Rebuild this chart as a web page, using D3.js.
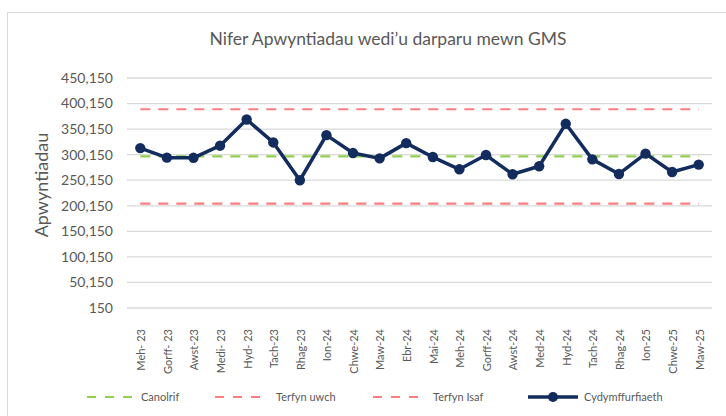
<!DOCTYPE html>
<html>
<head>
<meta charset="utf-8">
<script src="https://cdn.jsdelivr.net/npm/d3@7"></script>
<style>
  body { margin: 0; background: #fff; }
  svg { font-family: Lato, "Open Sans", sans-serif; }
</style>
</head>
<body>
<div id="chart"></div>
<script>
const months = ['Meh- 23', 'Gorff- 23', 'Awst-23', 'Medi- 23', 'Hyd- 23', 'Tach-23', 'Rhag-23', 'Ion-24',
  'Chwe-24', 'Maw-24', 'Ebr-24', 'Mai-24', 'Meh-24', 'Gorff-24', 'Awst-24', 'Med-24', 'Hyd-24',
  'Tach-24', 'Rhag-24', 'Ion-25', 'Chwe-25', 'Maw-25']
const cydymffurfiaeth = [313000, 294300, 294000, 317700, 368900, 324100, 250100, 338300,
  303300, 292900, 322700, 295500, 271500, 299400, 261800, 277400, 360500,
  291000, 262400, 302100, 266200, 280700]
const canolrif = 297000
const terfynUwch = 389000
const terfynIsaf = 204500
const yTicks = [150, 50150, 100150, 150150, 200150, 250150, 300150, 350150, 400150, 450150]

const width = 726, height = 416
const margin = {top: 78, right: 14, bottom: 108, left: 127}

const svg = d3.select('#chart').append('svg')
  .attr('width', width)
  .attr('height', height)

// chart frame
svg.append('rect')
  .attr('x', 7.5).attr('y', 12.5)
  .attr('width', 740).attr('height', 420)
  .attr('fill', 'none')
  .attr('stroke', '#d9d9d9')

svg.append('text')
  .attr('x', 388).attr('y', 45)
  .attr('text-anchor', 'middle')
  .attr('font-size', 17.5)
  .attr('fill', '#595959')
  .text("Nifer Apwyntiadau wedi\u2019u darparu mewn GMS")

const x = d3.scaleBand()
  .domain(months)
  .range([margin.left, width - margin.right])

const y = d3.scaleLinear()
  .domain([150, 450150])
  .range([height - margin.bottom, margin.top])

// gridlines
svg.append('g')
  .selectAll('line')
  .data(yTicks)
  .join('line')
  .attr('x1', margin.left).attr('x2', width - margin.right)
  .attr('y1', d => y(d)).attr('y2', d => y(d))
  .attr('stroke', '#d9d9d9')
  .attr('stroke-width', 1.3)

// y axis labels
svg.append('g')
  .selectAll('text')
  .data(yTicks)
  .join('text')
  .attr('x', 113)
  .attr('y', d => y(d))
  .attr('dy', '0.35em')
  .attr('text-anchor', 'end')
  .attr('font-size', 14)
  .attr('fill', '#595959')
  .text(d => d3.format(',')(d))

svg.append('text')
  .attr('transform', 'translate(48,185) rotate(-90)')
  .attr('text-anchor', 'middle')
  .attr('font-size', 18)
  .attr('fill', '#595959')
  .text('Apwyntiadau')

// x axis labels
svg.append('g')
  .selectAll('text')
  .data(months)
  .join('text')
  .attr('transform', d => `translate(${x(d) + x.bandwidth() / 2 + 1},${329}) rotate(-90)`)
  .attr('text-anchor', 'end')
  .attr('dy', '0.35em')
  .attr('font-size', 11)
  .attr('fill', '#595959')
  .text(d => d)

const first = x(months[0]) + x.bandwidth() / 2
const last = x(months[months.length - 1]) + x.bandwidth() / 2

const refLines = [
  {name: 'Canolrif', value: canolrif, color: '#92d050'},
  {name: 'Terfyn uwch', value: terfynUwch, color: '#ff7c80'},
  {name: 'Terfyn Isaf', value: terfynIsaf, color: '#ff7c80'},
]

svg.append('g')
  .selectAll('line')
  .data(refLines)
  .join('line')
  .attr('x1', first).attr('x2', last)
  .attr('y1', d => y(d.value)).attr('y2', d => y(d.value))
  .attr('stroke', d => d.color)
  .attr('stroke-width', 2.2)
  .attr('stroke-dasharray', '10,8')

const navy = '#132c5e'
const line = d3.line()
  .x((d, i) => x(months[i]) + x.bandwidth() / 2)
  .y(d => y(d))

svg.append('path')
  .datum(cydymffurfiaeth)
  .attr('d', line)
  .attr('fill', 'none')
  .attr('stroke', navy)
  .attr('stroke-width', 3.5)
  .attr('stroke-linejoin', 'round')

svg.append('g')
  .selectAll('circle')
  .data(cydymffurfiaeth)
  .join('circle')
  .attr('cx', (d, i) => x(months[i]) + x.bandwidth() / 2)
  .attr('cy', d => y(d))
  .attr('r', 5.2)
  .attr('fill', navy)

// legend
const legendY = 397
const legendItems = [
  {name: 'Canolrif', color: '#92d050', x0: 87, x1: 134, tx: 141, dash: true},
  {name: 'Terfyn uwch', color: '#ff7c80', x0: 215, x1: 264, tx: 276, dash: true},
  {name: 'Terfyn Isaf', color: '#ff7c80', x0: 373, x1: 419, tx: 433, dash: true},
  {name: 'Cydymffurfiaeth', color: navy, x0: 528, x1: 578, tx: 584, dash: false},
]
const legend = svg.append('g')
  .selectAll('g')
  .data(legendItems)
  .join('g')
legend.append('line')
  .attr('x1', d => d.x0).attr('x2', d => d.x1)
  .attr('y1', legendY).attr('y2', legendY)
  .attr('stroke', d => d.color)
  .attr('stroke-width', d => d.dash ? 2.2 : 3.5)
  .attr('stroke-dasharray', d => d.dash ? '9,9' : null)
legend.filter(d => !d.dash).append('circle')
  .attr('cx', d => (d.x0 + d.x1) / 2)
  .attr('cy', legendY)
  .attr('r', 5)
  .attr('fill', navy)
legend.append('text')
  .attr('x', d => d.tx)
  .attr('y', legendY)
  .attr('dy', '0.35em')
  .attr('font-size', 11)
  .attr('fill', '#595959')
  .text(d => d.name)
</script>
</body>
</html>
